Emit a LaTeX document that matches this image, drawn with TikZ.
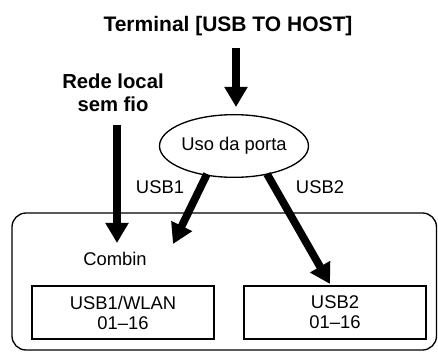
\documentclass[tikz,border=0pt]{standalone}
\usepackage{fontspec}
\setmainfont{Liberation Sans}
\usetikzlibrary{arrows.meta,shapes.geometric}
\tikzset{
  bigarrow/.style={line width=5.8pt,-{Triangle[width=16.5pt,length=15pt]}},
  thin/.style={line width=1pt},
  chanbox/.style={draw,thin,minimum width=136.5pt,minimum height=39.75pt,inner sep=0pt,align=center,font=\fontsize{13.8pt}{15pt}\selectfont},
  lbl/.style={font=\fontsize{13.8pt}{15pt}\selectfont,inner sep=0pt},
  boldlbl/.style={font=\bfseries\fontsize{15.2pt}{17.25pt}\selectfont,inner sep=0pt,align=center},
}
\begin{document}
\begin{tikzpicture}[x=0.75pt,y=-0.75pt]
\useasboundingbox (0,0) rectangle (438,352);
% container
\draw[thin,rounded corners=10.5pt] (12,213) rectangle (436.5,350);
% texts
\node[boldlbl,font=\bfseries\fontsize{15.75pt}{17.25pt}\selectfont] (title) at (228,26) {Terminal [USB TO HOST]};
\node[boldlbl] (rede) at (113,92.5) {Rede local\\sem fio};
\node[draw,thin,ellipse,minimum width=99pt,minimum height=47pt,inner sep=0pt,lbl] (port) at (234,146) {Uso da porta};
\node[lbl] (usb1) at (160,187) {USB1};
\node[lbl] (usb2) at (320,187) {USB2};
\node[lbl] (combin) at (115,259) {Combin};
\node[chanbox] (b1) at (123,312.5) {USB1/WLAN\\01--16};
\node[chanbox] (b2) at (335,312.5) {USB2\\01--16};
% arrow end points
\coordinate (t0) at (236,48);
\coordinate (t1) at (236,107);
\coordinate (r0) at (117,125);
\coordinate (r1) at (117,243);
\coordinate (u1s) at (207,174);
\coordinate (u1e) at (173,244);
\coordinate (u2s) at (267,174);
\coordinate (u2e) at (330,284);
\draw[bigarrow] (t0) -- (t1);
\draw[bigarrow] (r0) -- (r1);
\draw[bigarrow] (u1s) -- (u1e);
\draw[bigarrow] (u2s) -- (u2e);
\end{tikzpicture}
\end{document}
